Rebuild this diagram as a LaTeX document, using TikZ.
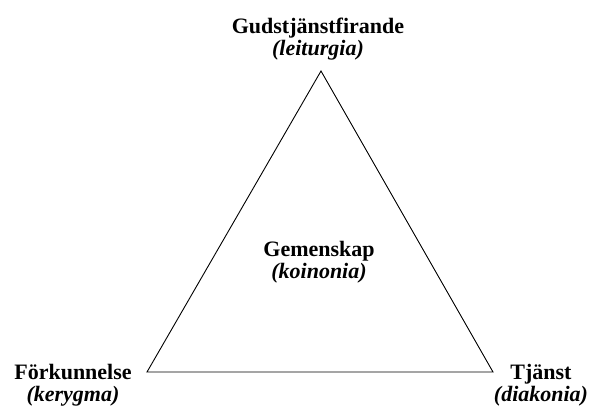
\documentclass[tikz,border=0pt]{standalone}
\usepackage{fontspec}
\setmainfont{Liberation Serif}
\begin{document}
\begin{tikzpicture}[
    x=1pt, y=-1pt,
    corner/.style={
      align=center,
      anchor=base,
      inner sep=0pt,
      font=\fontsize{22}{22}\selectfont\bfseries
    }
  ]
  \useasboundingbox (0,0) rectangle (592,410);

  % triangle corners
  \coordinate (top) at (321,71);
  \coordinate (left) at (147,372);
  \coordinate (right) at (493,372);

  \draw[line width=0.9pt, line join=miter]
    (top) -- (left) -- (right) -- cycle;

  \node[corner] (liturgy) at (318,55)
    {Gudstjänstfirande\\\textit{(leiturgia)}};
  \node[corner] (kerygma) at (73,401)
    {Förkunnelse\\\textit{(kerygma)}};
  \node[corner] (diakonia) at (541,401)
    {Tjänst\\\textit{(diakonia)}};
  \node[corner] (koinonia) at (319,278)
    {Gemenskap\\\textit{(koinonia)}};
\end{tikzpicture}
\end{document}
